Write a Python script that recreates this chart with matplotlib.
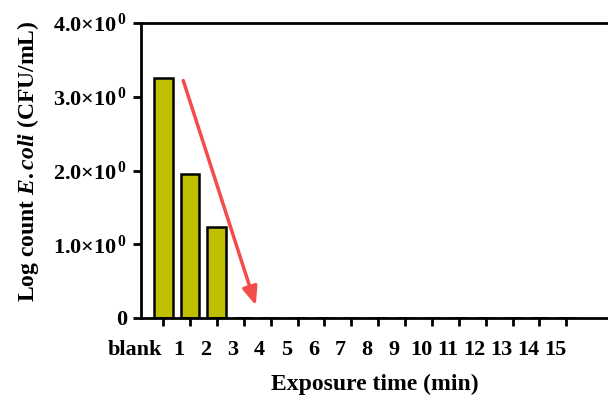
import matplotlib
matplotlib.use("Agg")
import matplotlib.pyplot as plt
import matplotlib.transforms as mtransforms

plt.rcParams['font.family'] = ['Liberation Serif', 'DejaVu Serif']
plt.rcParams['font.weight'] = 'bold'
plt.rcParams['mathtext.fontset'] = 'custom'
plt.rcParams['mathtext.rm'] = 'Liberation Serif:bold'
plt.rcParams['mathtext.bf'] = 'Liberation Serif:bold'
plt.rcParams['mathtext.it'] = 'Liberation Serif:italic:bold'

# data
categories = ['blank', '1', '2', '3', '4', '5', '6', '7', '8', '9', '10',
              '11', '12', '13', '14', '15']
values = [3.26, 1.95, 1.23, 0, 0, 0, 0, 0, 0, 0, 0, 0, 0, 0, 0, 0]
ytick_vals = [0, 1, 2, 3, 4]
ytick_labels = ['0', r'1.0$\times$10$^{\,0}$', r'2.0$\times$10$^{\,0}$',
                r'3.0$\times$10$^{\,0}$', r'4.0$\times$10$^{\,0}$']
arrow_start = (0.75, 3.22)
arrow_end = (3.45, 0.17)

fig = plt.figure(figsize=(6.08, 3.97), dpi=100)
ax = fig.add_axes([0.232, 0.199, 0.768, 0.743])

x = list(range(len(categories)))
ax.bar(x, values, width=0.7, color='#bfbf00', edgecolor='black', linewidth=1.8)

ax.annotate('', xy=arrow_end, xytext=arrow_start,
            arrowprops=dict(arrowstyle='-|>,head_length=1.1,head_width=0.45',
                            color='#f44b4b', lw=2.5, shrinkA=0, shrinkB=0))

ax.set_xlim(-0.82, 16.55)
ax.set_ylim(0, 4)
ax.set_xticks(x)
ax.set_xticklabels([])
ax.set_yticks(ytick_vals)
ax.set_yticklabels(ytick_labels, fontsize=16, fontweight='bold')

# x labels sit a bit left of their ticks in the original
for i, name in enumerate(categories):
    dx = -28 if i == 0 else -11
    offset = mtransforms.ScaledTranslation(dx / 100, -22 / 100, fig.dpi_scale_trans)
    ax.text(i, 0, name, transform=ax.get_xaxis_transform() + offset,
            ha='center', va='top', fontsize=16, fontweight='bold')

ax.set_xlabel('Exposure time (min)', fontsize=17, fontweight='bold', labelpad=30)
ax.set_ylabel(r'Log count $\mathit{E.coli}$ (CFU/mL)', fontsize=17,
              fontweight='bold')
ax.yaxis.set_label_coords(-0.214, 0.53)

for side in ['left', 'bottom', 'top']:
    ax.spines[side].set_linewidth(2)
ax.spines['right'].set_visible(False)
ax.tick_params(axis='both', width=2, length=6, direction='out', pad=4)

fig.savefig('out.png', dpi=100)
